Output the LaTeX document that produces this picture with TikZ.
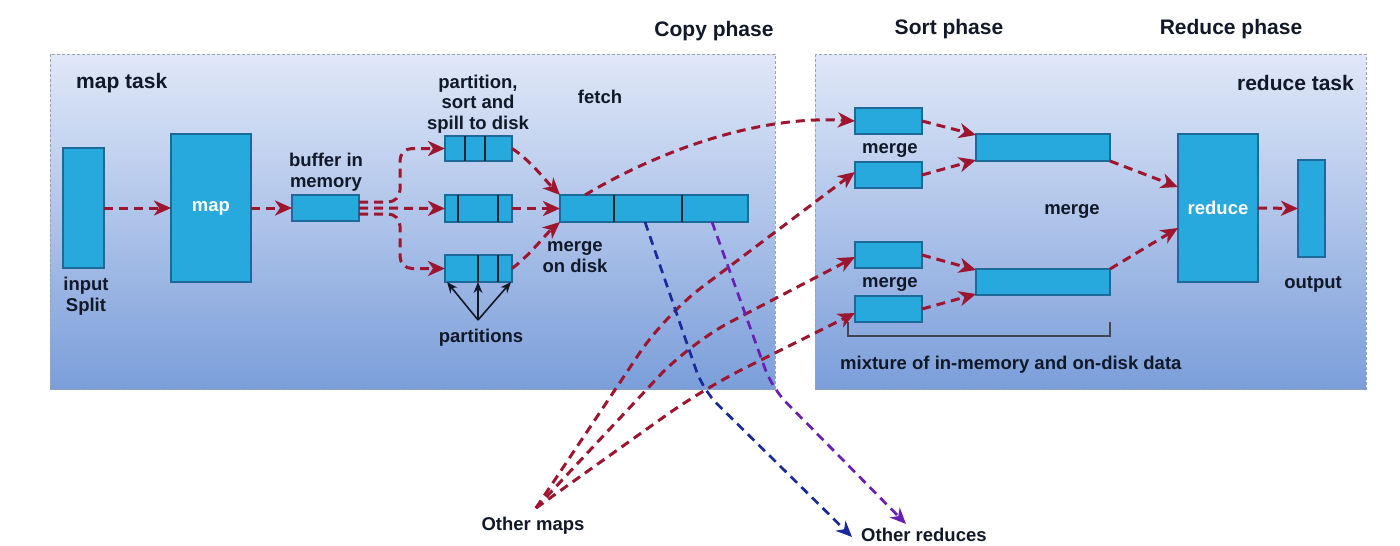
\documentclass[tikz,border=0pt]{standalone}
\usepackage{fontspec}
\setmainfont{Liberation Sans}
\usetikzlibrary{arrows.meta}
\definecolor{boxfill}{HTML}{27A9DE}
\definecolor{boxline}{HTML}{1C6A99}
\definecolor{arrred}{HTML}{9E1530}
\definecolor{arrblue}{HTML}{1A2A9C}
\definecolor{arrpurple}{HTML}{6A1FB4}
\definecolor{txt}{HTML}{111827}
\definecolor{paneltop}{HTML}{E0E8F8}
\definecolor{panelbot}{HTML}{7B9EDA}
\definecolor{panelline}{HTML}{9AA2AE}
\begin{document}
\begin{tikzpicture}[x=1pt,y=-1pt,
  panel/.style={draw=panelline, line width=1pt, dash pattern=on 3pt off 2pt, top color=paneltop, bottom color=panelbot},
  blk/.style={draw=boxline, line width=1.2pt, fill=boxfill, inner sep=0pt, outer sep=0pt},
  lbl/.style={text=txt, font=\bfseries\fontsize{18.5}{20.5}\selectfont, align=center, inner sep=0pt},
  ttl/.style={text=txt, font=\bfseries\fontsize{21}{24}\selectfont, inner sep=0pt},
  wlbl/.style={text=white, font=\bfseries\fontsize{18.5}{20.5}\selectfont},
  divider/.style={draw=black!85, line width=2.4pt},
  rarrow/.style={draw=arrred, line width=3pt, dash pattern=on 9pt off 6pt, -{Stealth[length=17pt,width=15pt,inset=5pt]}},
  barrow/.style={draw=arrblue, line width=2.7pt, dash pattern=on 9pt off 6pt, -{Stealth[length=16pt,width=14pt,inset=5pt]}},
  parrow/.style={draw=arrpurple, line width=2.7pt, dash pattern=on 9pt off 6pt, -{Stealth[length=16pt,width=14pt,inset=5pt]}},
  karrow/.style={draw=txt, line width=1.6pt, -{Stealth[length=11pt,width=9pt]}},
]
\useasboundingbox (0,0) rectangle (1400,546);

% panels
\path[panel] (50,54) rectangle (775,389);
\path[panel] (815,54) rectangle (1366,389);

% titles
\node[ttl] (tcopy) at (714,31) {Copy phase};
\node[ttl] (tsort) at (949,29) {Sort phase};
\node[ttl] (tred) at (1231,29) {Reduce phase};
\node[ttl, anchor=west] (tmap) at (76,83) {map task};
\node[ttl, anchor=east] (trt) at (1354,83) {reduce task};

% map side blocks
\node[blk, minimum width=41pt, minimum height=120pt] (split) at (83.5,208) {};
\node[blk, minimum width=80pt, minimum height=148pt] (mapn) at (211,208) {};
\node[wlbl] at (mapn.center) {map};
\node[blk, minimum width=67pt, minimum height=26pt] (buf) at (325.5,208) {};
\node[blk, minimum width=67pt, minimum height=25pt] (s1) at (478.5,148.5) {};
\node[blk, minimum width=67pt, minimum height=27pt] (s2) at (478.5,208.5) {};
\node[blk, minimum width=67pt, minimum height=27pt] (s3) at (478.5,268.5) {};
\node[blk, minimum width=188pt, minimum height=27pt] (mrg) at (654,208.5) {};

% dividers
\draw[divider] ([xshift=20pt]s1.north west) -- ([xshift=20pt]s1.south west);
\draw[divider] ([xshift=40pt]s1.north west) -- ([xshift=40pt]s1.south west);
\draw[divider] ([xshift=13pt]s2.north west) -- ([xshift=13pt]s2.south west);
\draw[divider] ([xshift=53pt]s2.north west) -- ([xshift=53pt]s2.south west);
\draw[divider] ([xshift=33pt]s3.north west) -- ([xshift=33pt]s3.south west);
\draw[divider] ([xshift=53pt]s3.north west) -- ([xshift=53pt]s3.south west);
\draw[divider] ([xshift=54pt]mrg.north west) -- ([xshift=54pt]mrg.south west);
\draw[divider] ([xshift=122pt]mrg.north west) -- ([xshift=122pt]mrg.south west);

% reduce side blocks
\node[blk, minimum width=67pt, minimum height=26pt] (r1) at (888.5,121) {};
\node[blk, minimum width=67pt, minimum height=26pt] (r2) at (888.5,175) {};
\node[blk, minimum width=67pt, minimum height=26pt] (r3) at (888.5,255) {};
\node[blk, minimum width=67pt, minimum height=26pt] (r4) at (888.5,309) {};
\node[blk, minimum width=134pt, minimum height=27pt] (ma) at (1043,147.5) {};
\node[blk, minimum width=134pt, minimum height=26pt] (mb) at (1043,282) {};
\node[blk, minimum width=80pt, minimum height=148pt] (red) at (1218,208) {};
\node[wlbl] at (red.center) {reduce};
\node[blk, minimum width=27pt, minimum height=97pt] (outb) at (1311.5,208.5) {};

% labels
\node[lbl] (lfetch) at (600,97) {fetch};
\node[lbl] (lsplit) at (86,296) {input\\Split};
\node[lbl] (lbuf) at (326,172) {buffer in\\memory};
\node[lbl] (lpart) at (478,104) {partition,\\sort and\\spill to disk};
\node[lbl] (lmod) at (575,257) {merge\\on disk};
\node[lbl] (lparts) at (481,338) {partitions};
\node[lbl] (lm1) at (890,150) {merge};
\node[lbl] (lm2) at (890,284) {merge};
\node[lbl] (lm3) at (1072,211) {merge};
\node[lbl] (lout) at (1313,284) {output};
\node[lbl, anchor=west] (lmix) at (840,365) {mixture of in-memory and on-disk data};
\node[lbl] (lom) at (533,526) {Other maps};
\node[lbl, anchor=west] (lor) at (861,535) {Other reduces};

% bracket
\draw[draw=txt!80, line width=1.3pt] (848,322) -- (848,336) -- (1110,336) -- (1110,322);

% map-side arrows
\draw[rarrow] (split.east) -- (mapn.west);
\draw[rarrow] (mapn.east) -- (buf.west);
\draw[rarrow, rounded corners=12pt] ([yshift=6pt]buf.east) -- (400,202) -- (400,148.5) -- (s1.west);
\draw[rarrow] (buf.east) -- (s2.west);
\draw[rarrow, rounded corners=12pt] ([yshift=-6pt]buf.east) -- (400,214) -- (400,268.5) -- (s3.west);
\draw[rarrow] (s1.east) .. controls (530,160) and (545,180) .. (mrg.north west);
\draw[rarrow] (s2.east) -- (mrg.west);
\draw[rarrow] (s3.east) .. controls (530,255) and (545,235) .. (mrg.south west);

% partitions pointers
\coordinate (pp) at (478,320);
\draw[karrow] (pp) -- ([xshift=2pt]s3.south west);
\draw[karrow] (pp) -- ([xshift=33pt]s3.south west);
\draw[karrow] (pp) -- ([xshift=-1pt]s3.south east);

% fetch
\coordinate (fst) at (585,195);
\draw[rarrow] (fst) .. controls (660,150) and (760,115) .. (r1.west);

% other maps
\coordinate (om) at (536,508);
\coordinate (k2) at (665,315);
\coordinate (k3) at (690,343);
\coordinate (k4) at (703,389);
\draw[rarrow, rounded corners=45pt] (om) -- (k2) -- ([yshift=3pt]r2.west);
\draw[rarrow, rounded corners=45pt] (om) -- (k3) -- ([yshift=-2pt]r3.west);
\draw[rarrow, rounded corners=45pt] (om) -- (k4) -- ([yshift=-4pt]r4.west);

% other reduces
\coordinate (bst) at (645,222);
\coordinate (bk) at (703,390);
\coordinate (bend) at (852,537);
\draw[barrow, rounded corners=20pt] (bst) -- (bk) -- (bend);
\coordinate (pst) at (712,222);
\coordinate (pk) at (772,388);
\coordinate (pend) at (906,524);
\draw[parrow, rounded corners=20pt] (pst) -- (pk) -- (pend);

% reduce-side arrows
\draw[rarrow] (r1.east) -- ([yshift=-1pt]ma.north west);
\draw[rarrow] (r2.east) -- ([yshift=1pt]ma.south west);
\draw[rarrow] (r3.east) -- ([yshift=-1pt]mb.north west);
\draw[rarrow] (r4.east) -- ([yshift=1pt]mb.south west);
\draw[rarrow] (ma.south east) -- ([yshift=21pt]red.west);
\draw[rarrow] (mb.north east) -- ([yshift=-20pt]red.west);
\draw[rarrow] (red.east) -- (outb.west);
\end{tikzpicture}
\end{document}
